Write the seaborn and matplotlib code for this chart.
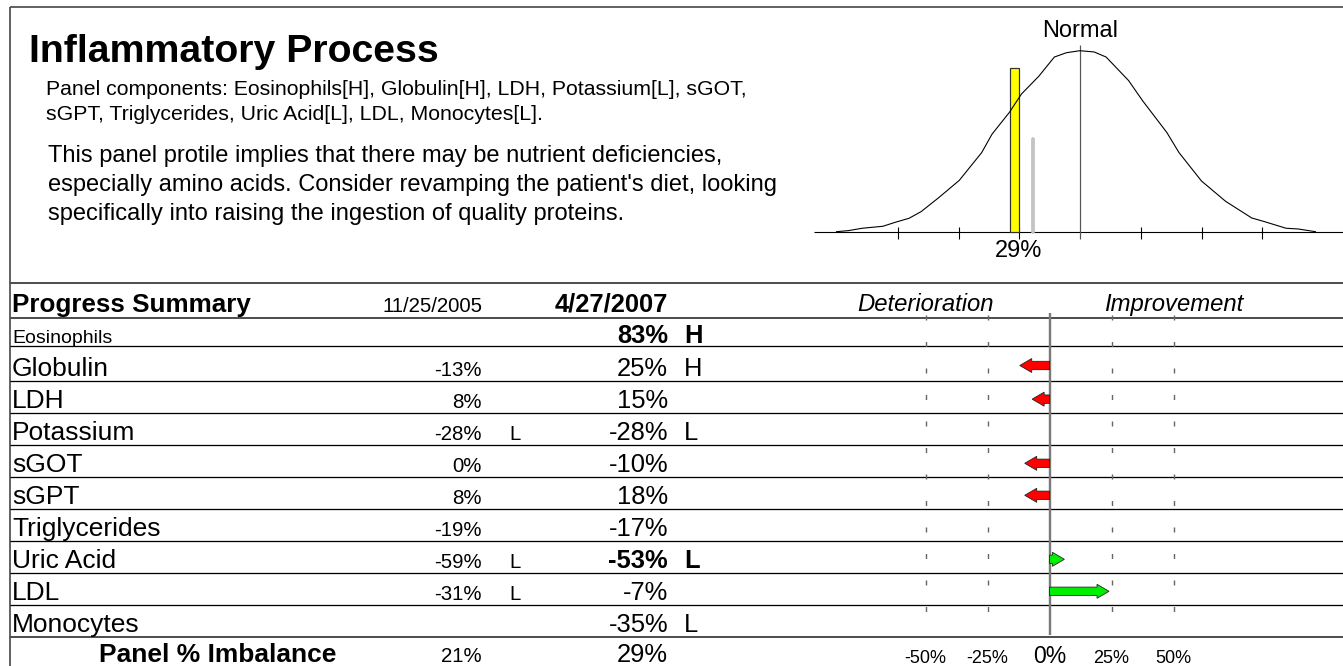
import matplotlib
matplotlib.use("Agg")
import matplotlib.pyplot as plt
import seaborn as sns

sns.set_theme(style="white")
plt.rcParams['font.family'] = ['Liberation Sans', 'DejaVu Sans']
plt.rcParams['text.color'] = 'black'
plt.rcParams['lines.scale_dashes'] = False

# ---------------- data ----------------
title = "Inflammatory Process"
components_text = ["Panel components: Eosinophils[H], Globulin[H], LDH, Potassium[L], sGOT,",
                   "sGPT, Triglycerides, Uric Acid[L], LDL, Monocytes[L]."]
paragraph = ["This panel protile implies that there may be nutrient deficiencies,",
             "especially amino acids. Consider revamping the patient's diet, looking",
             "specifically into raising the ingestion of quality proteins."]

components = ["Eosinophils", "Globulin", "LDH", "Potassium", "sGOT", "sGPT",
              "Triglycerides", "Uric Acid", "LDL", "Monocytes"]
prev_vals = [None, -13, 8, -28, 0, 8, -19, -59, -31, None]
prev_flags = ["", "", "", "L", "", "", "", "L", "L", ""]
curr_vals = [83, 25, 15, -28, -10, 18, -17, -53, -7, -35]
curr_flags = ["H", "H", "", "L", "", "", "", "L", "", "L"]
curr_bold = [True, False, False, False, False, False, False, True, False, False]
dates = ["11/25/2005", "4/27/2007"]
panel_prev = 21
panel_curr = 29

# bell curve (x in %, y relative height)
curve_x = [-108.3, -102.9, -96.8, -87.6, -82.1, -76.0, -70.6, -62.9, -53.7, -43.7, -39.1,
           -31.4, -26.0, -18.3, -11.4, -6.0, 0.0, 6.3, 11.6, 21.6, 27.8, 38.6, 44.0, 54.0,
           64.7, 76.3, 81.6, 91.6, 97.0, 104.7]
curve_y = [0.0, 0.006, 0.019, 0.030, 0.052, 0.074, 0.111, 0.187, 0.283, 0.437, 0.539,
           0.659, 0.761, 0.859, 0.965, 0.989, 1.0, 0.993, 0.965, 0.835, 0.724, 0.548, 0.437,
           0.280, 0.168, 0.076, 0.057, 0.019, 0.015, 0.0]
bell_ticks = [-81, -54, -27, 0, 27, 54, 81]
curr_bar_height = 0.905
prev_bar_height = 0.51

arrow_ticks = [-50, -25, 0, 25, 50]
min_arrow = 5

# ---------------- layout ----------------
W, H = 1343, 666
fig = plt.figure(figsize=(W / 100, H / 100), dpi=100)
PX = 0.72  # points per pixel


def px_axes(x0, x1, y0, y1, xlim, ylim, z=1):
    ax = fig.add_axes([x0 / W, 1 - y1 / H, (x1 - x0) / W, (y1 - y0) / H], zorder=z)
    ax.set_xlim(*xlim)
    ax.set_ylim(*ylim)
    ax.axis('off')
    ax.patch.set_alpha(0)
    return ax


canvas = px_axes(0, W, 0, H, (0, W), (H, 0), z=1)
BORDER = '#404040'

# outer frame of top box
canvas.hlines(7.3, 9.5, W, color=BORDER, lw=1.6 * PX)
canvas.vlines(9.5, 7.3, H, color=BORDER, lw=1.6 * PX)

# title + text
canvas.text(29, 62, title, fontsize=28.3, fontweight='bold', ha='left', va='baseline')
for i, line in enumerate(components_text):
    canvas.text(46.5, 95 + i * 24.5, line, fontsize=15.3, ha='left', va='baseline')
for i, line in enumerate(paragraph):
    canvas.text(47.5, 162 + i * 28.8, line, fontsize=17, ha='left', va='baseline')

# ---------------- bell curve ----------------
bx0, bx1, by0, by1 = 800, W, 0, 282
base_y, peak_px = 231.7, 181
xc_bell, sc_bell = 1080, 2.25
bell = px_axes(bx0, bx1, by0, by1,
               ((bx0 - xc_bell) / sc_bell, (bx1 - xc_bell) / sc_bell),
               ((base_y - by1) / peak_px, (base_y - by0) / peak_px), z=2)
bell.hlines(0, (814 - xc_bell) / sc_bell, (bx1 - xc_bell) / sc_bell, color='black', lw=1.1 * PX)
for t in bell_ticks:
    if t == 0:
        bell.vlines(t, -7.5 / peak_px, (base_y - 45) / peak_px, color='#555555', lw=1.2 * PX)
    else:
        bell.vlines(t, -7.5 / peak_px, 5 / peak_px, color='black', lw=1.1 * PX)
bell.plot([-panel_prev, -panel_prev], [0, prev_bar_height], color='#c4c4c4', lw=3.8 * PX,
          solid_capstyle='round', zorder=2)
bell.bar([-panel_curr], [curr_bar_height], width=3.9, color='#ffff00', edgecolor='#303030',
         lw=1.2 * PX, zorder=3)
sns.lineplot(x=curve_x, y=curve_y, ax=bell, color='black', lw=1.1 * PX, zorder=4)
bell.axis('off')
bell.text(0, (base_y - 36.8) / peak_px, "Normal", fontsize=17, ha='center', va='baseline')
bell.text(-panel_curr + 1.5, (base_y - 256.7) / peak_px, f"{panel_curr}%", fontsize=17,
          ha='center', va='baseline')

# ---------------- table ----------------
edges = [282.7, 317.7, 346, 381, 413.3, 445.3, 477.3, 509.3, 541.3, 573.3, 605.3, 637.3]
for k, e in enumerate(edges):
    if k in (0, 1, len(edges) - 1):
        canvas.hlines(e, 9.5, W, color='#505050', lw=2.0 * PX)
    else:
        canvas.hlines(e, 9.5, W, color='black', lw=1.3 * PX)

NAME_X, PREV_R, PREV_FLAG, CURR_R, CURR_FLAG = 12, 482, 509, 668, 684
FS_NAME, FS_PREV, FS_CURR = 19, 14.7, 18.4
hdr_base = 312
canvas.text(NAME_X, hdr_base, "Progress Summary", fontsize=18.7, fontweight='bold',
            ha='left', va='baseline')
canvas.text(PREV_R, hdr_base, dates[0], fontsize=FS_PREV, ha='right', va='baseline')
canvas.text(CURR_R, hdr_base, dates[1], fontsize=FS_CURR, fontweight='bold', ha='right', va='baseline')

for i, name in enumerate(components):
    bot = edges[i + 2]
    base = bot - (3 if i == 0 else 5.5)
    canvas.text(NAME_X, base, name, fontsize=14 if i == 0 else FS_NAME, ha='left', va='baseline')
    if prev_vals[i] is not None:
        canvas.text(PREV_R, base, f"{prev_vals[i]}%", fontsize=FS_PREV, ha='right', va='baseline')
    if prev_flags[i]:
        canvas.text(PREV_FLAG, base, prev_flags[i], fontsize=FS_PREV, ha='left', va='baseline')
    fw = 'bold' if curr_bold[i] else 'normal'
    canvas.text(CURR_R, base, f"{curr_vals[i]}%", fontsize=FS_CURR, fontweight=fw,
                ha='right', va='baseline')
    if curr_flags[i]:
        canvas.text(CURR_FLAG, base, curr_flags[i], fontsize=FS_CURR, fontweight=fw,
                    ha='left', va='baseline')

pbase = 662.5
canvas.text(218, pbase, "Panel % Imbalance", fontsize=19, fontweight='bold', ha='center', va='baseline')
canvas.text(PREV_R, pbase, f"{panel_prev}%", fontsize=FS_PREV, ha='right', va='baseline')
canvas.text(CURR_R, pbase, f"{panel_curr}%", fontsize=FS_CURR, ha='right', va='baseline')

# ---------------- arrows ----------------
xc_arr, sc_arr = 1049.5, 2.48
arr = px_axes(800, W, 0, H, ((800 - xc_arr) / sc_arr, (W - xc_arr) / sc_arr), (H, 0), z=3)
arr.text(arrow_ticks[0], 311, "Deterioration", fontsize=17.2, style='italic', ha='center', va='baseline')
arr.text(arrow_ticks[-1], 311, "Improvement", fontsize=17.2, style='italic', ha='center', va='baseline')
for t in arrow_ticks:
    if t == 0:
        arr.vlines(0, 313, 635, color='#7a7a7a', lw=2.4 * PX)
        arr.text(t, 663, f"{t}%", fontsize=16.6, ha='center', va='baseline')
    else:
        arr.vlines(t, 314.5, 611.5, color='#666666', lw=1.4 * PX,
                   linestyles=[(0, (5 * PX, 21.5 * PX))])
        arr.text(t, 663, f"{t}%", fontsize=13, ha='center', va='baseline')

shaft_h, head_h, head_len = 4.2, 7, 12 / sc_arr
for i in range(len(components)):
    if prev_vals[i] is None:
        continue
    change = abs(prev_vals[i]) - abs(curr_vals[i])
    if abs(change) < min_arrow:
        continue
    yc = (edges[i + 1] + edges[i + 2]) / 2 + 2
    d = 1 if change > 0 else -1
    L = change
    hl = min(head_len, abs(L)) * d
    xs = [0, L - hl, L - hl, L, L - hl, L - hl, 0]
    ys = [yc - shaft_h, yc - shaft_h, yc - head_h, yc, yc + head_h, yc + shaft_h, yc + shaft_h]
    col = '#00ee00' if change > 0 else '#ff0000'
    arr.fill(xs, ys, facecolor=col, edgecolor='#202020', lw=0.8 * PX, zorder=4)

fig.savefig("out.png", dpi=100, facecolor='white')
